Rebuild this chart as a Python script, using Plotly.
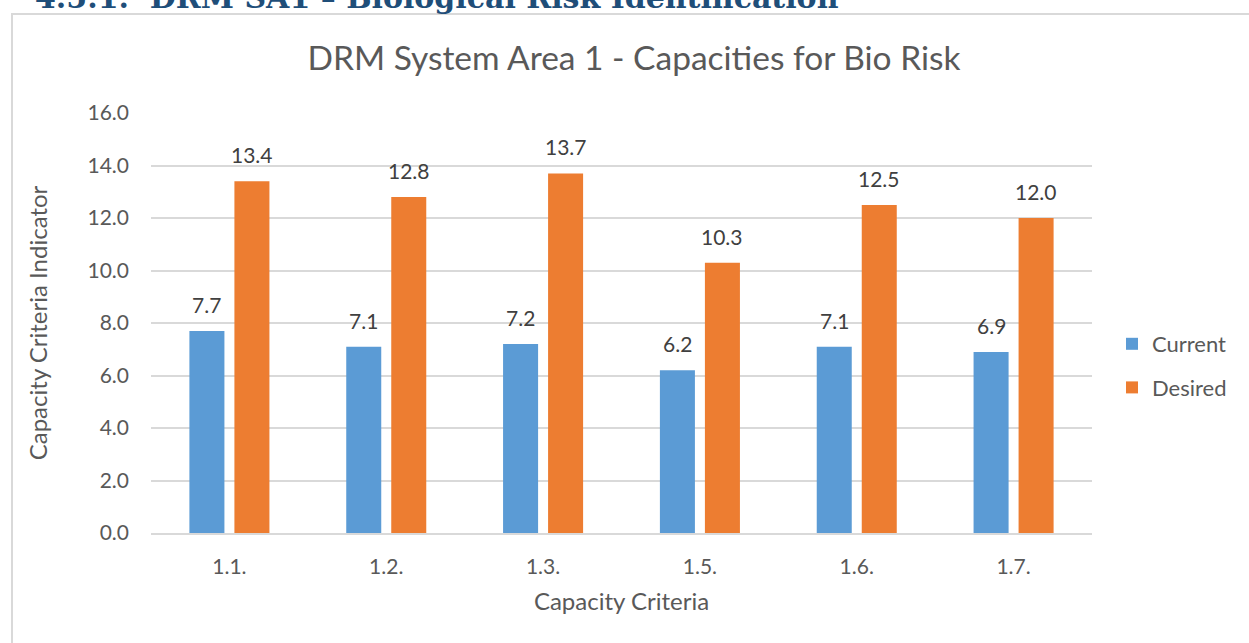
import plotly.graph_objects as go

# Capacity criteria and their indicator scores
criteria = ["1.1.", "1.2.", "1.3.", "1.5.", "1.6.", "1.7."]
current = [7.7, 7.1, 7.2, 6.2, 7.1, 6.9]
desired = [13.4, 12.8, 13.7, 10.3, 12.5, 12.0]
y_ticks = [0, 2, 4, 6, 8, 10, 12, 14, 16]

W, H = 1249, 643
L, R, T, B = 151, 157, 113, 110
plot_w, plot_h = W - L - R, H - T - B

def px_x(px):
    return (px - L) / plot_w

def px_y(py):
    return (H - B - py) / plot_h

FONT = "Lato"
GREY = "#595959"

fig = go.Figure()
fig.add_trace(go.Bar(name="Current", x=criteria, y=current,
                     marker=dict(color="#5B9BD5", line=dict(width=0)),
                     legendgroup="c"))
fig.add_trace(go.Bar(name="Desired", x=criteria, y=desired,
                     marker=dict(color="#ED7D31", line=dict(width=0)),
                     legendgroup="d"))

annotations = []
for i, (c, d) in enumerate(zip(current, desired)):
    for val, off in ((c, -0.143), (d, 0.143)):
        annotations.append(dict(x=i + off, y=val, xref="x", yref="y",
                                text=f"{val:.1f}", showarrow=False,
                                yanchor="bottom", yshift=12,
                                font=dict(family=FONT, size=21, color="#404040")))

# Section heading partly cut off at the top of the page
annotations.append(dict(x=px_x(33), y=px_y(17), xref="paper", yref="paper",
                        xanchor="left", yanchor="bottom", showarrow=False,
                        text="<b>4.5.1.  DRM SA1 – Biological Risk Identification</b>",
                        font=dict(family="DejaVu Serif", size=30, color="#1F4E79")))

fig.update_layout(
    width=W, height=H,
    margin=dict(l=L, r=R, t=T, b=B, autoexpand=False),
    paper_bgcolor="white", plot_bgcolor="white",
    barmode="group", bargap=0.426, bargroupgap=0.222,
    title=dict(text="DRM System Area 1 - Capacities for Bio Risk",
               x=634 / W, xanchor="center", y=1 - 58 / H, yanchor="middle",
               font=dict(family=FONT, size=33.5, color=GREY)),
    font=dict(family=FONT, color=GREY),
    xaxis=dict(showgrid=False, showline=True, linecolor="#D9D9D9", linewidth=1.5,
               ticks="", tickfont=dict(size=21, color=GREY), ticklabelstandoff=14,
               title=dict(text="Capacity Criteria", font=dict(size=24, color=GREY),
                          standoff=16)),
    yaxis=dict(range=[0, 16], tickvals=y_ticks,
               ticktext=[f"{v:.1f}" for v in y_ticks],
               showgrid=True, gridcolor="#D9D9D9", gridwidth=1.5,
               zeroline=False, showline=False, ticks="",
               tickfont=dict(size=21, color=GREY), ticklabelstandoff=21,
               title=dict(text="Capacity Criteria Indicator",
                          font=dict(size=24, color=GREY), standoff=33)),
    legend=dict(x=px_x(1112), y=px_y(323), xanchor="left", yanchor="top",
                font=dict(size=22, color=GREY), tracegroupgap=12,
                itemwidth=30, bgcolor="rgba(0,0,0,0)"),
    annotations=annotations,
    shapes=[dict(type="rect", xref="paper", yref="paper",
                 x0=px_x(12), x1=px_x(W + 40), y0=px_y(H + 40), y1=px_y(14),
                 line=dict(color="#D9D9D9", width=2), fillcolor="rgba(0,0,0,0)",
                 layer="below")],
)

fig.write_html("out.html")
